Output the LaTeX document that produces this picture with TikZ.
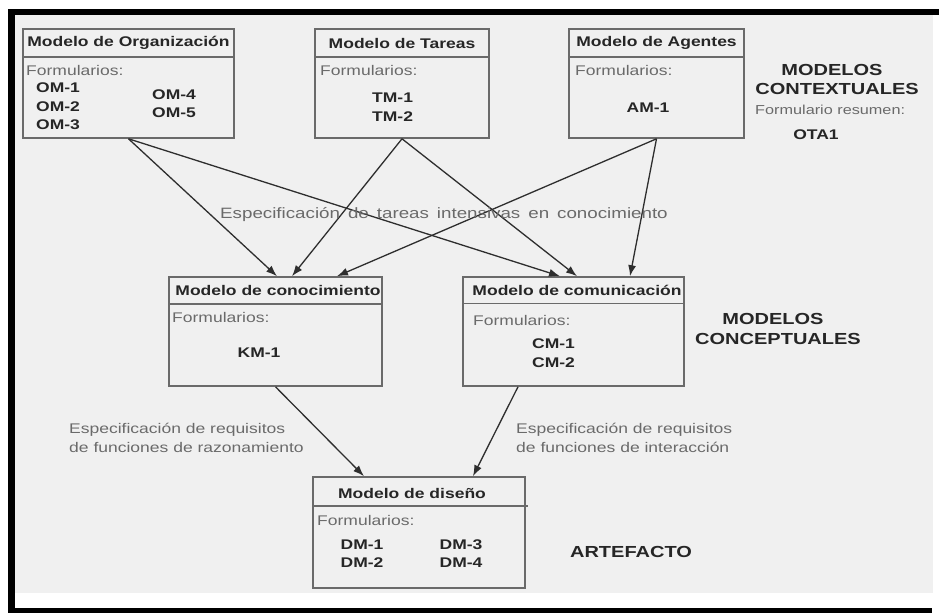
\documentclass[tikz,border=0pt]{standalone}
\usepackage{fontspec}
\setmainfont{Liberation Sans}[FakeStretch=1.25]
\usetikzlibrary{calc,arrows.meta}
\definecolor{bg}{HTML}{F0F0F0}
\definecolor{boxline}{HTML}{6A6A6A}
\definecolor{txtgray}{HTML}{6A6A6A}
\definecolor{txtdark}{HTML}{262626}
\definecolor{arrowc}{HTML}{2E2E2E}
\tikzset{
  modelbox/.style={draw=boxline, line width=1.6pt, fill=bg, inner sep=0pt},
  headline/.style={draw=boxline, line width=1.6pt},
  boldtxt/.style={font=\fontsize{14}{16}\selectfont\bfseries, text=txtdark, inner sep=0pt},
  graytxt/.style={font=\fontsize{14}{16}\selectfont, text=txtgray, inner sep=0pt},
  bigtxt/.style={font=\fontsize{16}{18}\selectfont\bfseries, text=txtdark, inner sep=0pt},
  arr/.style={draw=arrowc, line width=1.3pt, -{Latex[length=11pt,width=8pt]}}
}
\begin{document}
\begin{tikzpicture}[x=1pt,y=-1pt]
\useasboundingbox (0,0) rectangle (939,613);
% frame
\fill[white] (0,0) rectangle (939,613);
\fill[bg] (15,15) rectangle (933,593);
\fill[black] (8,9) rectangle (939,15);
\fill[black] (8,9) rectangle (15,613);
\fill[black] (8,608) rectangle (932,613);

% boxes
\node[modelbox, minimum width=211pt, minimum height=109pt] (om) at (128.5,83.5) {};
\draw[headline] (om.west |- 0,57) -- (om.east |- 0,57);
\node[modelbox, minimum width=174pt, minimum height=109pt] (tm) at (402,83.5) {};
\draw[headline] (tm.west |- 0,57) -- (tm.east |- 0,57);
\node[modelbox, minimum width=175pt, minimum height=109pt] (am) at (656.5,83.5) {};
\draw[headline] (am.west |- 0,57) -- (am.east |- 0,57);
\node[modelbox, minimum width=213pt, minimum height=109pt] (kc) at (275.5,331.5) {};
\draw[headline] (kc.west |- 0,304) -- (kc.east |- 0,304);
\node[modelbox, minimum width=221pt, minimum height=109pt] (cm) at (573.5,331.5) {};
\draw[headline] (cm.west |- 0,303.5) -- (cm.east |- 0,303.5);
\node[modelbox, minimum width=212pt, minimum height=111pt] (dm) at (419,532.5) {};
\draw[headline] (dm.west |- 0,506) -- ($(dm.east |- 0,506)+(2,0)$);

% texts: organizacion
\node[boldtxt] (omt) at (128.5,43) {Modelo de Organización};
\node[graytxt, anchor=west] (omf) at (26,70) {Formularios:};
\node[boldtxt, anchor=west] (om1) at (36,88) {OM-1};
\node[boldtxt, anchor=west] (om2) at (36,107) {OM-2};
\node[boldtxt, anchor=west] (om3) at (36,125) {OM-3};
\node[boldtxt, anchor=west] (om4) at (152,95) {OM-4};
\node[boldtxt, anchor=west] (om5) at (152,113) {OM-5};
% tareas
\node[boldtxt] (tmt) at (402,43) {Modelo de Tareas};
\node[graytxt, anchor=west] (tmf) at (320,70) {Formularios:};
\node[boldtxt, anchor=west] (tm1) at (372,98) {TM-1};
\node[boldtxt, anchor=west] (tm2) at (372,117) {TM-2};
% agentes
\node[boldtxt] (amt) at (656.5,43) {Modelo de Agentes};
\node[graytxt, anchor=west] (amf) at (575,70) {Formularios:};
\node[boldtxt] (am1) at (648,108) {AM-1};
% contextuales
\node[bigtxt] (mc1) at (832,70) {MODELOS};
\node[bigtxt] (mc2) at (837,89) {CONTEXTUALES};
\node[graytxt, font=\fontsize{13}{15}\selectfont, anchor=west] (fr) at (755,110) {Formulario resumen:};
\node[boldtxt] (ota) at (816,135) {OTA1};
% conocimiento
\node[boldtxt] (kct) at (278,290) {Modelo de conocimiento};
\node[graytxt, anchor=west] (kcf) at (172,317) {Formularios:};
\node[boldtxt] (km1) at (259,353) {KM-1};
% comunicacion
\node[boldtxt] (cmt) at (577,290) {Modelo de comunicación};
\node[graytxt, anchor=west] (cmf) at (473,320) {Formularios:};
\node[boldtxt, anchor=west] (cm1) at (532,344) {CM-1};
\node[boldtxt, anchor=west] (cm2) at (532,363) {CM-2};
% conceptuales
\node[bigtxt] (mp1) at (773,319) {MODELOS};
\node[bigtxt] (mp2) at (778,339) {CONCEPTUALES};
% diseno
\node[boldtxt] (dmt) at (412,493) {Modelo de diseño};
\node[graytxt, anchor=west] (dmf) at (317,520) {Formularios:};
\node[boldtxt] (dm1) at (362,545) {DM-1};
\node[boldtxt] (dm2) at (362,563) {DM-2};
\node[boldtxt] (dm3) at (461,545) {DM-3};
\node[boldtxt] (dm4) at (461,563) {DM-4};
\node[bigtxt] (art) at (631,552) {ARTEFACTO};

% arrows
\draw[arr] (om.south) -- ($(kc.north)+(1.5,0)$);
\draw[arr] (om.south) -- ($(cm.north)+(-13.5,0)$);
\draw[arr] (tm.south) -- ($(kc.north)+(16.5,0)$);
\draw[arr] (tm.south) -- ($(cm.north)+(3.5,0)$);
\draw[arr] (am.south) -- ($(kc.north)+(61.5,0)$);
\draw[arr] (am.south) -- ($(cm.north)+(56.5,0)$);
\draw[arr] (kc.south) -- ($(dm.north)+(-55,0)$);
\draw[arr] ($(cm.south)+(-55.5,0)$) -- ($(dm.north)+(54,0)$);

% labels
\node[graytxt, font=\fontsize{15}{17}\selectfont, anchor=west] (lbl1) at (220,215) {\spaceskip=8pt\relax Especificación de tareas intensivas en conocimiento};
\node[graytxt, font=\fontsize{14}{19}\selectfont, align=left, anchor=west] (lbl2) at (69,437.5) {Especificación de requisitos\\de funciones de razonamiento};
\node[graytxt, font=\fontsize{14}{19}\selectfont, align=left, anchor=west] (lbl3) at (516,437.5) {Especificación de requisitos\\de funciones de interacción};
\end{tikzpicture}
\end{document}
